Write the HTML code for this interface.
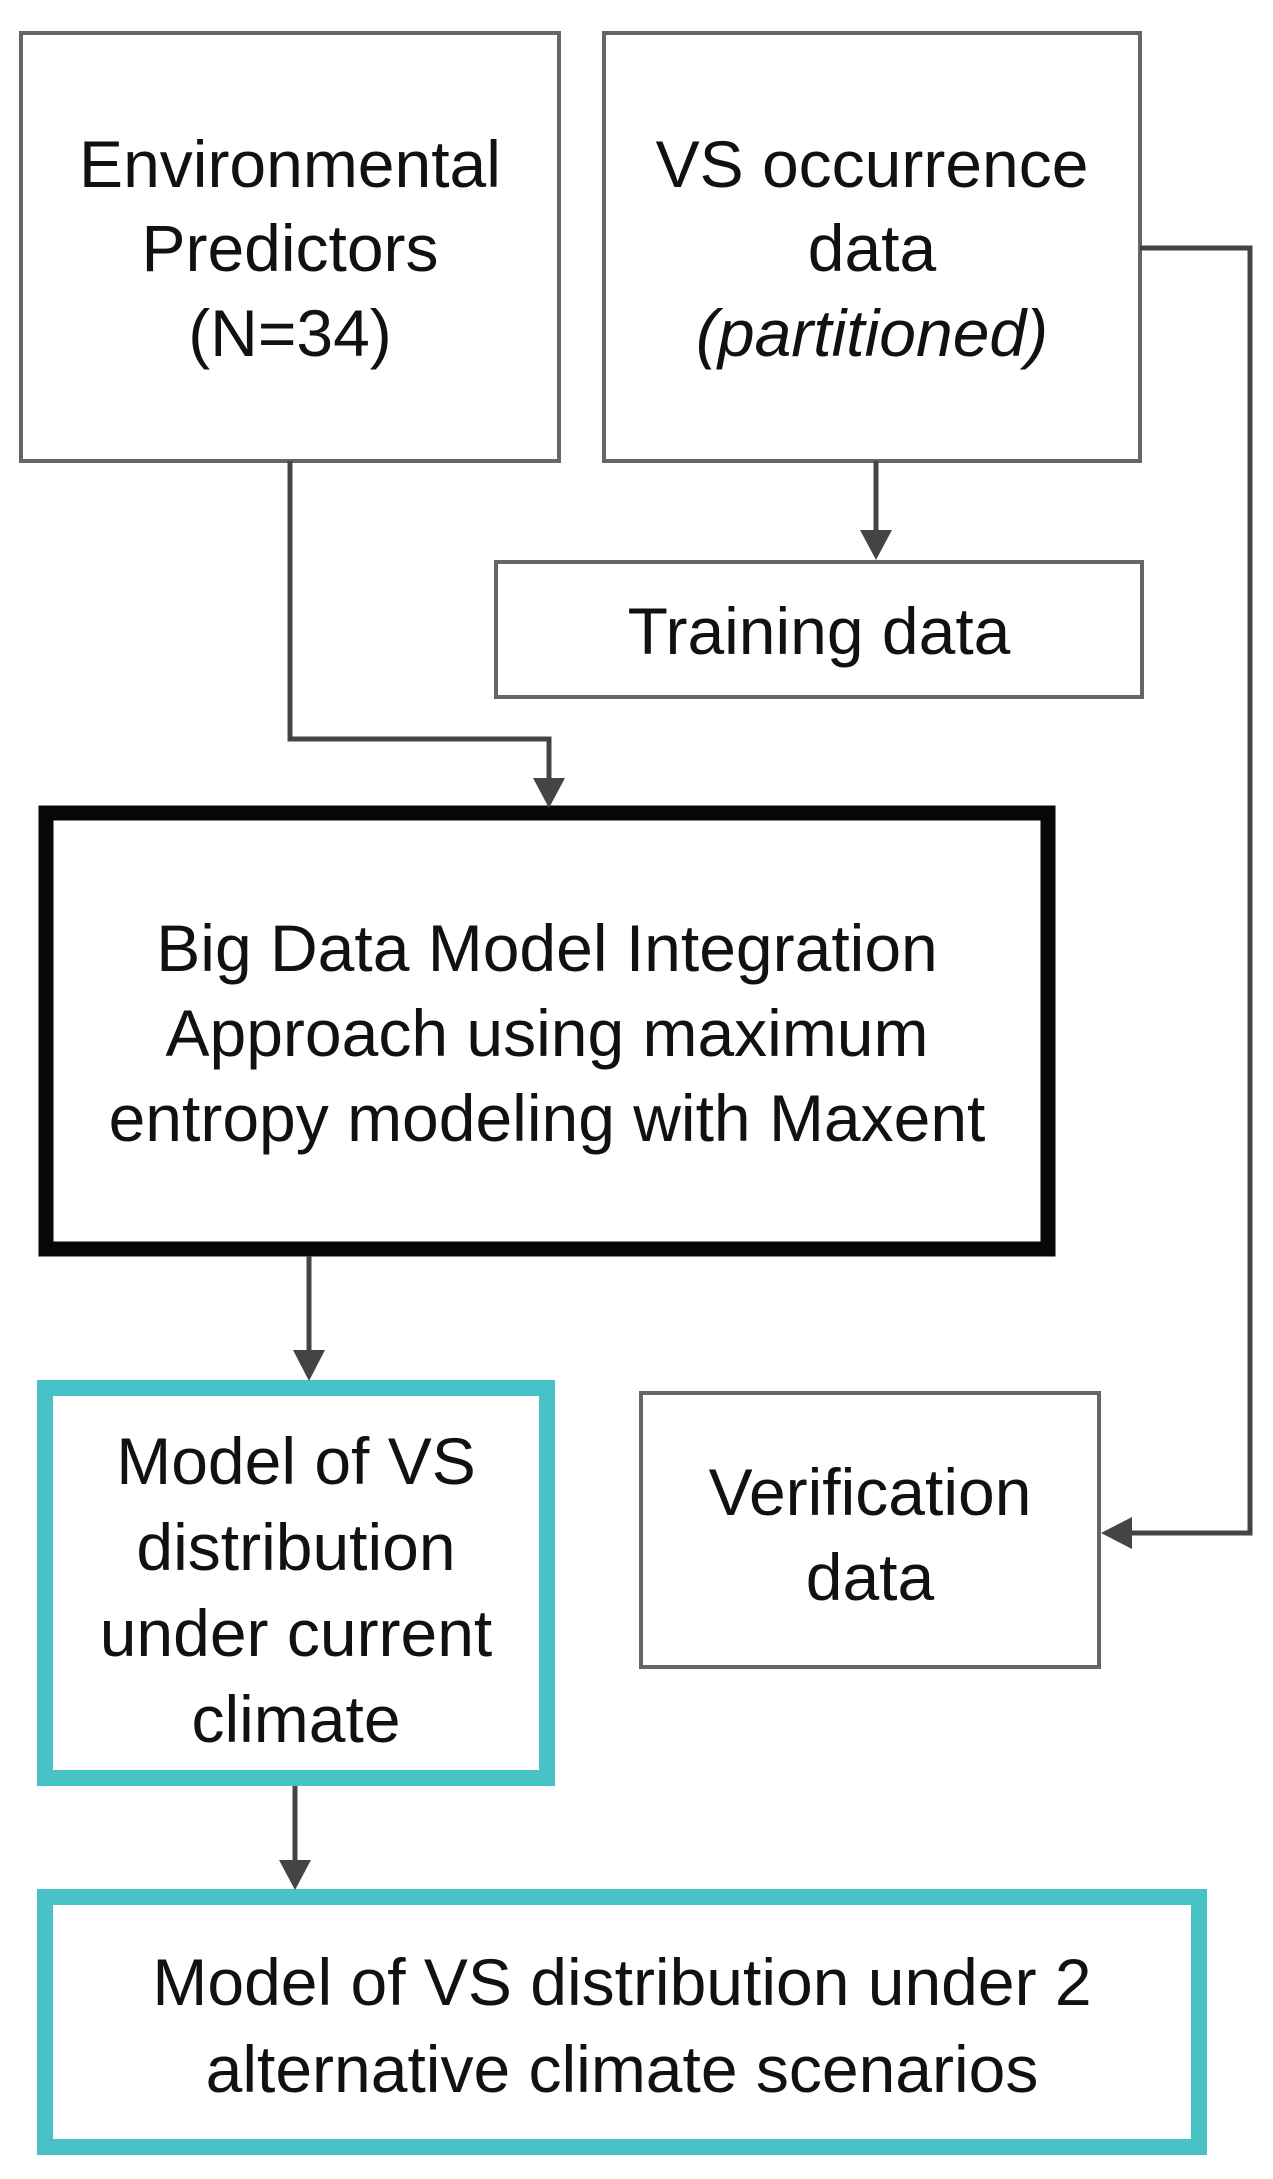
<!DOCTYPE html>
<html><head><meta charset="utf-8"><style>
html,body{margin:0;padding:0;background:#fff}
svg{display:block}
text{font-family:"Liberation Sans",Arial,sans-serif;font-size:66px;fill:#111;text-anchor:middle;dominant-baseline:central}
</style></head><body>
<svg width="1273" height="2179" viewBox="0 0 1273 2179" xmlns="http://www.w3.org/2000/svg">
<g fill="none" stroke="#666" stroke-width="4">
<rect x="21" y="33" width="538" height="428"/>
<rect x="604" y="33" width="536" height="428"/>
<rect x="496" y="562" width="646" height="135"/>
<rect x="641" y="1393" width="458" height="274"/>
</g>
<rect x="46" y="813" width="1002" height="436" fill="none" stroke="#060808" stroke-width="15"/>
<rect x="45" y="1388" width="502" height="390" fill="none" stroke="#47c3c7" stroke-width="16"/>
<rect x="45" y="1897" width="1154" height="250" fill="none" stroke="#47c3c7" stroke-width="16"/>
<g fill="none" stroke="#444" stroke-width="5">
<polyline points="290,461 290,739 549,739 549,780"/>
<line x1="876" y1="461" x2="876" y2="532"/>
<polyline points="1140,248 1250,248 1250,1533 1130,1533"/>
<line x1="309" y1="1256" x2="309" y2="1352"/>
<line x1="295" y1="1786" x2="295" y2="1862"/>
</g>
<g fill="#444">
<polygon points="533,778 565,778 549,808"/>
<polygon points="860,530 892,530 876,560"/>
<polygon points="1132,1517 1132,1549 1101,1533"/>
<polygon points="293,1350 325,1350 309,1381"/>
<polygon points="279,1860 311,1860 295,1890"/>
</g>
<text x="290" y="164">Environmental</text>
<text x="290" y="248">Predictors</text>
<text x="290" y="333">(N=34)</text>
<text x="872" y="164">VS occurrence</text>
<text x="872" y="248">data</text>
<text x="872" y="333" font-style="italic">(partitioned)</text>
<text x="819" y="631">Training data</text>
<text x="547" y="948">Big Data Model Integration</text>
<text x="547" y="1033">Approach using maximum</text>
<text x="547" y="1118">entropy modeling with Maxent</text>
<text x="296" y="1461">Model of VS</text>
<text x="296" y="1547">distribution</text>
<text x="296" y="1633">under current</text>
<text x="296" y="1719">climate</text>
<text x="870" y="1492">Verification</text>
<text x="870" y="1577">data</text>
<text x="622" y="1982">Model of VS distribution under 2</text>
<text x="622" y="2069">alternative climate scenarios</text>
</svg>
</body></html>
